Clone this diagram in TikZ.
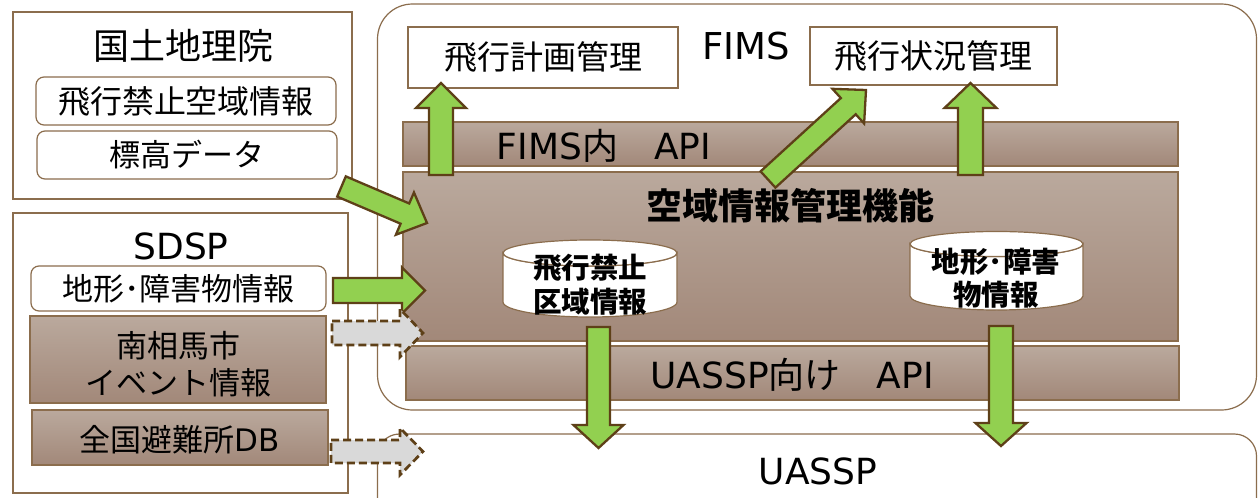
\documentclass[tikz,border=0pt]{standalone}
\usepackage{fontspec}
\setmainfont{Noto Sans CJK JP}
\newfontfamily\lat{DejaVu Sans}
\usetikzlibrary{calc}
\definecolor{brdr}{RGB}{139,109,77}
\definecolor{bandtop}{RGB}{186,169,157}
\definecolor{bandbot}{RGB}{162,136,121}
\definecolor{agreen}{RGB}{146,208,80}
\definecolor{arrbr}{RGB}{94,64,24}
\definecolor{agray}{RGB}{217,217,217}
\newcommand\fsz[2]{\fontsize{#1}{#2}\selectfont}
% block arrow: style, from, to, shaft half width, head half width, head length
\newcommand\blkarrow[6]{%
  \path coordinate (arrH) at ($(#3)!#6pt!(#2)$);
  \draw[#1] ($(#2)!#4pt!90:(#3)$) -- ($(arrH)!#4pt!-90:(#2)$) -- ($(arrH)!#5pt!-90:(#2)$)
    -- (#3) -- ($(arrH)!#5pt!90:(#2)$) -- ($(arrH)!#4pt!90:(#2)$) -- ($(#2)!#4pt!-90:(#3)$) -- cycle;}
\tikzset{
  frame/.style={draw=brdr, line width=1.2pt, fill=white, inner sep=0pt, outer sep=0pt, anchor=north west},
  rbox/.style={frame, rounded corners=8pt},
  band/.style={draw=brdr, line width=1.2pt, top color=bandtop, bottom color=bandbot, inner sep=0pt, outer sep=0pt, anchor=north west},
  garrow/.style={draw=arrbr, fill=agreen, line width=2.3pt, line join=miter},
  darrow/.style={draw=arrbr, fill=agray, line width=2.7pt, line join=miter, dash pattern=on 8pt off 4pt},
  lbl/.style={inner sep=0pt, outer sep=0pt, align=center},
}
\begin{document}
\begin{tikzpicture}[x=1pt,y=-1pt]
\clip (0,0) rectangle (1259,498);
\fill[white] (0,0) rectangle (1259,498);
% FIMS frame
\draw[brdr, line width=1.2pt, rounded corners=35pt] (377.5,4) rectangle (1256.5,410);
\node[lbl, font=\lat\fsz{37}{40}] (fimst) at (746,46) {FIMS};
% UASSP frame
\draw[brdr, line width=1.2pt, rounded corners=22pt] (377.5,434) rectangle (1256.5,540);
\node[lbl, font=\lat\fsz{36}{40}] (uasspt) at (818,471) {UASSP};
% boxes in FIMS
\node[frame, minimum width=270pt, minimum height=61pt, font=\fsz{33}{36}] (keikaku) at (408,27) {飛行計画管理};
\node[frame, minimum width=247pt, minimum height=58pt, font=\fsz{33}{36}] (joukyou) at (810,27) {飛行状況管理};
\node[band, minimum width=775pt, minimum height=44pt] (fapi) at (403,122) {};
\node[lbl, font=\fsz{36}{40}] (fapit) at (604,146) {{\lat FIMS}内　{\lat API}};
\node[band, minimum width=775pt, minimum height=169pt] (kuiki) at (403,172) {};
\node[lbl, font=\bfseries\fsz{36}{40}] (kuikit) at (790,206) {空域情報管理機能};
\node[band, minimum width=773pt, minimum height=54pt] (uapi) at (406,346) {};
\node[lbl, font=\fsz{36}{40}] (uapit) at (792,375) {{\lat UASSP}向け　{\lat API}};
% cylinders
\draw[brdr, line width=1.2pt, fill=white] (503,253) arc[start angle=180, end angle=360, x radius=87pt, y radius=13pt]
  -- (677,302) arc[start angle=0, end angle=-180, x radius=87pt, y radius=15pt] -- cycle;
\draw[brdr, line width=1.2pt, fill=white] (590,253) ellipse[x radius=87pt, y radius=13pt];
\node[lbl, font=\bfseries\fsz{28.5}{34}] (db1) at (590,285) {飛行禁止\\区域情報};
\draw[brdr, line width=1.2pt, fill=white] (910,244) arc[start angle=180, end angle=360, x radius=86.5pt, y radius=12.5pt]
  -- (1083,296) arc[start angle=0, end angle=-180, x radius=86.5pt, y radius=14pt] -- cycle;
\draw[brdr, line width=1.2pt, fill=white] (996.5,244) ellipse[x radius=86.5pt, y radius=12.5pt];
\node[lbl, font=\bfseries\fsz{28.5}{33}] (db2) at (996,278) {地形･障害\\物情報};
% left: GSI
\node[frame, minimum width=339pt, minimum height=187pt] (gsi) at (13,12) {};
\node[lbl, font=\fsz{36}{40}] (gsit) at (183,46) {国土地理院};
\node[rbox, minimum width=300pt, minimum height=48pt, font=\fsz{32}{36}] (kinshi) at (36,77) {飛行禁止空域情報};
\node[rbox, minimum width=300pt, minimum height=48pt, font=\fsz{31}{36}] (hyoukou) at (37,131) {標高データ};
% left: SDSP
\node[frame, minimum width=335pt, minimum height=280pt] (sdsp) at (13,213) {};
\node[lbl, font=\lat\fsz{36}{40}] (sdspt) at (181,246) {SDSP};
\node[rbox, minimum width=295pt, minimum height=45pt, font=\fsz{31}{36}] (chikei) at (31,266) {地形･障害物情報};
\node[band, minimum width=296pt, minimum height=87pt] (minami) at (30,316) {};
\node[lbl, font=\fsz{31}{37}] (minamit) at (178,364) {南相馬市\\イベント情報};
\node[band, minimum width=296pt, minimum height=55pt] (hinan) at (32,410) {};
\node[lbl, font=\fsz{31}{36}] (hinant) at (180,440) {全国避難所{\lat DB}};
% arrow end points
\coordinate (u1s) at (441,175);   \coordinate (u1e) at (441,83);
\coordinate (u2s) at (970.5,175); \coordinate (u2e) at (970.5,83);
\coordinate (dgs) at (768,179.5); \coordinate (dge) at (866,90);
\coordinate (gas) at (341.5,186.5); \coordinate (gae) at (427,223);
\coordinate (chs) at (333,290.5); \coordinate (che) at (425,290.5);
\coordinate (d1s) at (332,333);   \coordinate (d1e) at (423,333);
\coordinate (d2s) at (331,451.5); \coordinate (d2e) at (423,451.5);
\coordinate (w1s) at (598.5,327); \coordinate (w1e) at (598.5,448);
\coordinate (w2s) at (1001,326);  \coordinate (w2e) at (1001,446);
% arrows
\blkarrow{garrow}{u1s}{u1e}{12}{25}{25}
\blkarrow{garrow}{u2s}{u2e}{12.5}{26}{25}
\blkarrow{garrow}{dgs}{dge}{11}{23.5}{24}
\blkarrow{garrow}{gas}{gae}{11}{23}{24}
\blkarrow{garrow}{chs}{che}{12.5}{23}{23}
\blkarrow{darrow}{d1s}{d1e}{12}{24}{23}
\blkarrow{darrow}{d2s}{d2e}{11.5}{23.5}{23}
\blkarrow{garrow}{w1s}{w1e}{11.5}{25}{23}
\blkarrow{garrow}{w2s}{w2e}{12}{25.5}{23}
\end{tikzpicture}
\end{document}
